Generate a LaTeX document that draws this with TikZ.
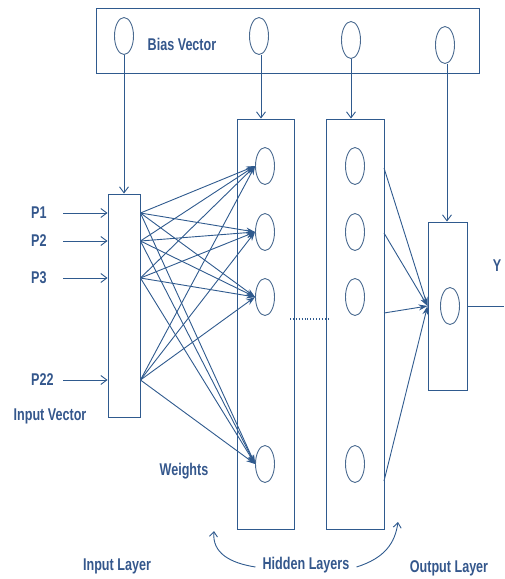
\documentclass[tikz,border=0pt]{standalone}
\usepackage{fontspec}
\setmainfont{Liberation Sans}[FakeStretch=0.74]
\usetikzlibrary{shapes.geometric,arrows.meta}
\definecolor{nnblue}{HTML}{2F5A8E}
\definecolor{nntext}{HTML}{34578C}
\definecolor{nncirc}{HTML}{4A6A90}
\tikzset{
  box/.style={draw=nnblue,line width=0.9pt,rectangle,inner sep=0pt},
  neuron/.style={draw=nncirc,line width=0.9pt,ellipse,inner sep=0pt,minimum width=19pt,minimum height=37pt},
  lbl/.style={text=nntext,font=\fontsize{17}{19}\selectfont\bfseries,inner sep=0pt},
  conn/.style={draw=nnblue,line width=0.9pt},
  openarr/.style={conn,-{Straight Barb[length=6pt,width=9pt]}},
  warr/.style={conn,-{Stealth[length=9pt,width=6pt]}},
}
\begin{document}
\begin{tikzpicture}[x=1pt,y=-1pt]
\useasboundingbox (0,0) rectangle (504,579);
% boxes
\node[box,minimum width=383pt,minimum height=65pt] (bias) at (287.5,40.5) {};
\node[box,minimum width=32pt,minimum height=223pt] (inbox) at (124,305.5) {};
\node[box,minimum width=57pt,minimum height=410pt] (h1) at (265.5,324) {};
\node[box,minimum width=58pt,minimum height=410pt] (h2) at (355,324) {};
\node[box,minimum width=39pt,minimum height=168pt] (ob) at (447.5,306) {};
% bias neurons
\node[neuron] (b1) at (124,36) {};
\node[neuron] (b2) at (259,36) {};
\node[neuron] (b3) at (351,40) {};
\node[neuron] (b4) at (445,45) {};
\node[lbl] (biaslbl) at (182,44) {Bias Vector};
% hidden neurons
\foreach \i/\y in {1/166,2/232,3/297,4/464}{
  \node[neuron] (n\i) at (265,\y) {};
  \node[neuron] (m\i) at (355,\y) {};
}
\node[neuron] (oc) at (450,306) {};
% bias arrows
\draw[openarr] (b1.south) -- (b1.south |- inbox.north);
\draw[openarr] ([xshift=2pt]b2.south) -- ([xshift=2pt]b2.south |- h1.north);
\draw[openarr] (b3.south) -- (b3.south |- h2.north);
\draw[openarr] ([xshift=2pt]b4.south) -- ([xshift=2pt]b4.south |- ob.north);
% inputs
\foreach \n/\y in {P1/213,P2/241,P3/278,P22/380}{
  \node[lbl,anchor=west] (l\n) at (31,\y) {\n};
  \coordinate (s\n) at (63,\y);
  \coordinate (e\n) at (inbox.west |- s\n);
  \coordinate (o\n) at (inbox.east |- s\n);
  \draw[openarr] (s\n) -- (e\n);
}
% weights
\foreach \n in {P1,P2,P3,P22}{
  \foreach \j in {1,2,3,4}{
    \draw[warr] (o\n) -- (n\j.west);
  }
}
% dotted line
\coordinate (d1) at (290,319);
\coordinate (d2) at (329,319);
\draw[conn,dotted,line width=1.4pt] (d1) -- (d2);
% hidden to output
\coordinate (tgt) at (ob.west |- oc);
\coordinate (c1) at (384,168);
\coordinate (c2) at (384,233);
\coordinate (c3) at (384,313);
\coordinate (c4) at (384,481);
\foreach \c in {c1,c2,c3,c4}{
  \draw[warr] (\c) -- (tgt);
}
% output
\coordinate (oend) at (504,306);
\draw[conn] (ob.east |- oc) -- (oend);
\node[lbl] (ylbl) at (497,266) {Y};
% labels
\node[lbl] (inv) at (50,416) {Input Vector};
\node[lbl] (wts) at (184,471) {Weights};
\node[lbl] (inl) at (117,566) {Input Layer};
\node[lbl] (hid) at (306,565) {Hidden Layers};
\node[lbl] (outl) at (449,568) {Output Layer};
% curved arrows
\draw[conn,-{Straight Barb[length=5pt,width=8pt]}] ([xshift=-7pt,yshift=-2pt]hid.west) .. controls (230,563) and (212,553) .. (214,531);
\draw[conn,-{Straight Barb[length=5pt,width=8pt]}] ([xshift=7pt,yshift=-2pt]hid.east) .. controls (385,558) and (395,543) .. (398,522);
\end{tikzpicture}
\end{document}
